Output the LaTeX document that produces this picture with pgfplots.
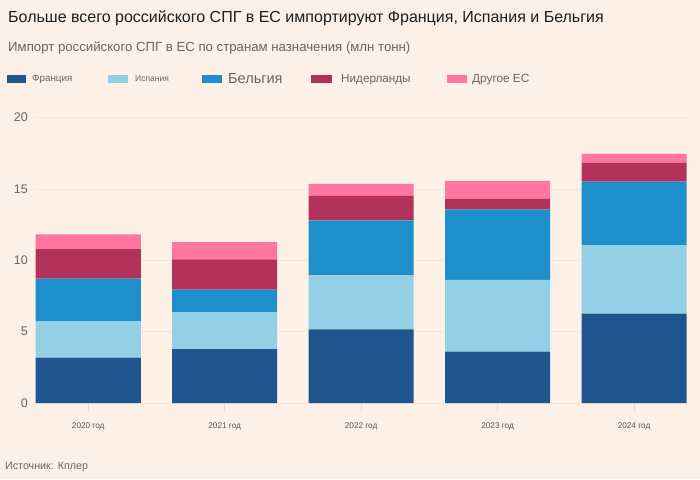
\documentclass[border=0pt]{standalone}
\usepackage{fontspec}
\setmainfont{Liberation Sans}
\usepackage{pgfplots}
\usepackage{pgfplotstable}
\pgfplotsset{compat=1.18}
\definecolor{bg}{HTML}{FDF0E6}
\definecolor{fr}{HTML}{1F5690}
\definecolor{es}{HTML}{93D0E6}
\definecolor{be}{HTML}{1F8FCC}
\definecolor{nl}{HTML}{B3325C}
\definecolor{ot}{HTML}{FF77A0}
\definecolor{txt}{HTML}{1E1E1E}
\definecolor{sub}{HTML}{666666}
\definecolor{tick}{HTML}{555555}
\definecolor{gridc}{HTML}{F5E4D8}
\definecolor{tickc}{HTML}{EADACE}

\pgfplotstableread{
x fr es be nl ot
0 3.18 2.55 2.99 2.07 1.03
1 3.78 2.58 1.59 2.12 1.21
2 5.16 3.79 3.85 1.71 0.84
3 3.60 5.02 4.95 0.73 1.26
4 6.26 4.81 4.44 1.34 0.60
}\datatab

\begin{document}
\begin{tikzpicture}[x=1pt,y=1pt]
\fill[bg] (0,0) rectangle (700,479);
\useasboundingbox (0,0) rectangle (700,479);
\node[anchor=base west, inner sep=0, font=\fontsize{16}{18}\selectfont, text=txt] at (8,456) {Больше всего российского СПГ в ЕС импортируют Франция, Испания и Бельгия};
\node[anchor=base west, inner sep=0, font=\fontsize{13.2}{15}\selectfont, text=sub] at (8,427) {Импорт российского СПГ в ЕС по странам назначения (млн тонн)};
% legend
\fill[fr] (7,396) rectangle (26,404);
\node[anchor=base west, inner sep=0, font=\fontsize{9.8}{11}\selectfont, text=sub] at (32,397) {Франция};
\fill[es] (108,396) rectangle (128,404);
\node[anchor=base west, inner sep=0, font=\fontsize{8.5}{10}\selectfont, text=sub] at (135,397) {Испания};
\fill[be] (202,396) rectangle (222,404);
\node[anchor=base west, inner sep=0, font=\fontsize{14.5}{16}\selectfont, text=sub] at (228,395.5) {Бельгия};
\fill[nl] (311,396) rectangle (332,404);
\node[anchor=base west, inner sep=0, font=\fontsize{11.7}{13}\selectfont, text=sub] at (341,396.5) {Нидерланды};
\fill[ot] (447,396) rectangle (467,404);
\node[anchor=base west, inner sep=0, font=\fontsize{11.8}{13}\selectfont, text=sub] at (472,396.5) {Другое ЕС};
\node[anchor=base west, inner sep=0, font=\fontsize{10.7}{12}\selectfont, text=sub] at (5,10) {Источник: Кплер};

\begin{axis}[at={(35pt,76pt)}, anchor=south west, scale only axis,
  width=655pt, height=285.4pt,
  xmin=-0.39, xmax=4.41, ymin=0, ymax=20,
  ybar stacked, bar width=0.77,
  axis line style={draw=none},
  ymajorgrids, grid style={gridc, line width=0.8pt},
  ytick={0,5,10,15,20},
  xtick={0,1,2,3,4},
  xticklabels={2020 год,2021 год,2022 год,2023 год,2024 год},
  xtick pos=bottom,
  ytick style={draw=none},
  xtick style={draw=tickc, line width=0.6pt},
  tick align=outside, major tick length=8pt,
  /pgf/number format/assume math mode=true,
  yticklabel style={anchor=east, inner sep=0pt, xshift=1pt, font=\fontsize{12.5}{15}\selectfont, text=sub},
  xticklabel style={font=\fontsize{8.2}{10}\selectfont, text=tick, yshift=-8pt},
  clip=false,
]
\addplot[fill=fr, draw=none] table[x=x,y=fr] {\datatab};
\addplot[fill=es, draw=none] table[x=x,y=es] {\datatab};
\addplot[fill=be, draw=none] table[x=x,y=be] {\datatab};
\addplot[fill=nl, draw=none] table[x=x,y=nl] {\datatab};
\addplot[fill=ot, draw=none] table[x=x,y=ot] {\datatab};
\end{axis}
\end{tikzpicture}
\end{document}
